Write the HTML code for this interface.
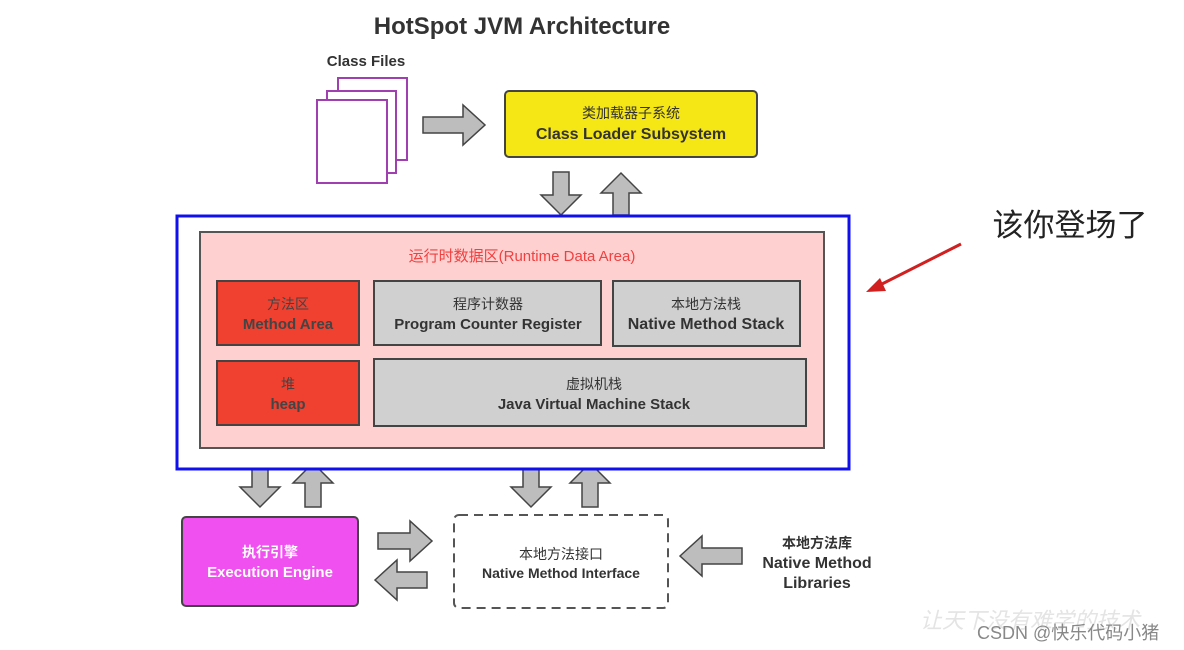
<!DOCTYPE html>
<html><head><meta charset="utf-8"><style>
html,body{margin:0;padding:0;background:#fff;}
svg{display:block;font-family:"Liberation Sans","Noto Sans CJK SC",sans-serif;}
</style></head><body>
<svg width="1184" height="650" viewBox="0 0 1184 650" xmlns="http://www.w3.org/2000/svg">
<rect width="1184" height="650" fill="#fff"/>
<text x="522" y="34" text-anchor="middle" font-size="24" font-weight="bold" fill="#333">HotSpot JVM Architecture</text>
<text x="366" y="66" text-anchor="middle" font-size="15" font-weight="bold" fill="#333">Class Files</text>
<g fill="#fff" stroke="#a040b0" stroke-width="2">
<rect x="338" y="78" width="69" height="82"/>
<rect x="327" y="91" width="69" height="82"/>
<rect x="317" y="100" width="70" height="83"/>
</g>
<g fill="#bdbdbd" stroke="#444" stroke-width="1.5">
<polygon points="423,117 463,117 463,105 485,125 463,145 463,133 423,133"/>
<polygon points="553,172 569,172 569,195 581,195 561,215 541,195 553,195"/>
<polygon points="601,193 621,173 641,193 629,193 629,215 613,215 613,193"/>
<polygon points="252,463 268,463 268,487 280,487 260,507 240,487 252,487"/>
<polygon points="293,483 313,463 333,483 321,483 321,507 305,507 305,483"/>
<polygon points="523,463 539,463 539,487 551,487 531,507 511,487 523,487"/>
<polygon points="570,483 590,463 610,483 598,483 598,507 582,507 582,483"/>
<polygon points="378,533 410,533 410,521 432,541 410,561 410,549 378,549"/>
<polygon points="375,580 397,560 397,572 427,572 427,588 397,588 397,600"/>
<polygon points="680,556 702,536 702,548 742,548 742,564 702,564 702,576"/>
</g>
<rect x="505" y="91" width="252" height="66" rx="4" fill="#f5e616" stroke="#444" stroke-width="2"/>
<text x="631" y="118" text-anchor="middle" font-size="14" fill="#333">类加载器子系统</text>
<text x="631" y="139" text-anchor="middle" font-size="16" font-weight="bold" fill="#333">Class Loader Subsystem</text>
<rect x="177" y="216" width="672" height="253" fill="#fff" stroke="#1010ee" stroke-width="3"/>
<rect x="200" y="232" width="624" height="216" fill="#ffd0d0" stroke="#555" stroke-width="2"/>
<text x="522" y="261" text-anchor="middle" font-size="15" fill="#f04040">运行时数据区(Runtime Data Area)</text>
<rect x="217" y="281" width="142" height="64" fill="#f04030" stroke="#444" stroke-width="2"/>
<text x="288" y="309" text-anchor="middle" font-size="14" fill="#444">方法区</text>
<text x="288" y="329" text-anchor="middle" font-size="15" font-weight="bold" fill="#444">Method Area</text>
<rect x="374" y="281" width="227" height="64" fill="#d0d0d0" stroke="#444" stroke-width="2"/>
<text x="488" y="309" text-anchor="middle" font-size="14" fill="#333">程序计数器</text>
<text x="488" y="329" text-anchor="middle" font-size="15" font-weight="bold" fill="#333">Program Counter Register</text>
<rect x="613" y="281" width="187" height="65" fill="#d0d0d0" stroke="#444" stroke-width="2"/>
<text x="706" y="309" text-anchor="middle" font-size="14" fill="#333">本地方法栈</text>
<text x="706" y="329" text-anchor="middle" font-size="16" font-weight="bold" fill="#333">Native Method Stack</text>
<rect x="217" y="361" width="142" height="64" fill="#f04030" stroke="#444" stroke-width="2"/>
<text x="288" y="389" text-anchor="middle" font-size="14" fill="#444">堆</text>
<text x="288" y="409" text-anchor="middle" font-size="15" font-weight="bold" fill="#444">heap</text>
<rect x="374" y="359" width="432" height="67" fill="#d0d0d0" stroke="#444" stroke-width="2"/>
<text x="594" y="389" text-anchor="middle" font-size="14" fill="#333">虚拟机栈</text>
<text x="594" y="409" text-anchor="middle" font-size="15" font-weight="bold" fill="#333">Java Virtual Machine Stack</text>
<rect x="182" y="517" width="176" height="89" rx="4" fill="#f050f0" stroke="#444" stroke-width="2"/>
<text x="270" y="557" text-anchor="middle" font-size="14" font-weight="bold" fill="#fff">执行引擎</text>
<text x="270" y="577" text-anchor="middle" font-size="15" font-weight="bold" fill="#fff">Execution Engine</text>
<rect x="454" y="515" width="214" height="93" rx="5" fill="#fff" stroke="#555" stroke-width="2" stroke-dasharray="9,6"/>
<text x="561" y="559" text-anchor="middle" font-size="14" fill="#333">本地方法接口</text>
<text x="561" y="578" text-anchor="middle" font-size="14" font-weight="bold" fill="#333">Native Method Interface</text>
<text x="817" y="548" text-anchor="middle" font-size="14" font-weight="bold" fill="#333">本地方法库</text>
<text x="817" y="568" text-anchor="middle" font-size="16" font-weight="bold" fill="#333">Native Method</text>
<text x="817" y="588" text-anchor="middle" font-size="16" font-weight="bold" fill="#333">Libraries</text>
<text x="1070" y="236" text-anchor="middle" font-size="31" fill="#222">该你登场了</text>
<line x1="961" y1="244" x2="878" y2="286" stroke="#d02020" stroke-width="3"/>
<polygon points="866,292 880,278 886,291" fill="#d02020"/>
<text x="920" y="628" font-size="22" font-style="italic" fill="#e4e4e4">让天下没有难学的技术</text>
<text x="977" y="639" font-size="18" fill="#888">CSDN @快乐代码小猪</text>
</svg>
</body></html>
